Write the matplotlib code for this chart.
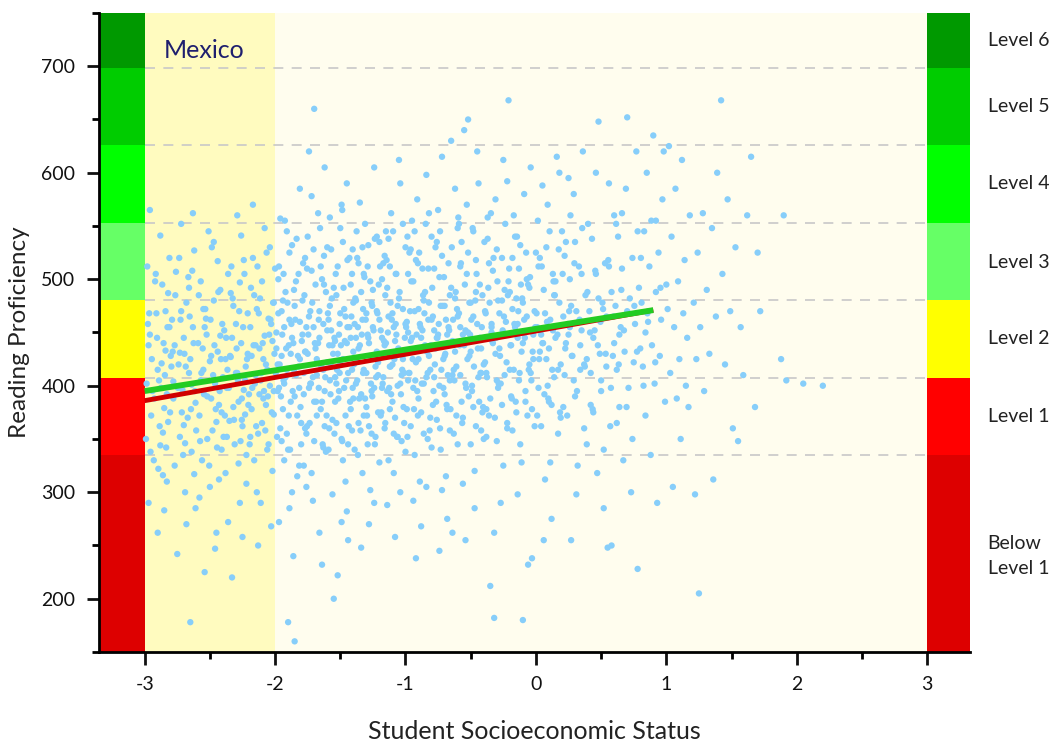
import matplotlib
matplotlib.use("Agg")
import matplotlib.pyplot as plt
import matplotlib.transforms as mtransforms

plt.rcParams['font.family'] = ['Lato', 'DejaVu Sans']

# PISA reading proficiency levels (lower bounds) and colours
level_names = ["Below\nLevel 1", "Level 1", "Level 2", "Level 3", "Level 4", "Level 5", "Level 6"]
level_bounds = [150, 334.75, 407.47, 480.18, 552.89, 625.61, 698.32, 750]
level_colors = ["#dd0000", "#ff0000", "#ffff00", "#66ff66", "#00ff00", "#00cc00", "#009900"]

# regression lines
fit_x = [-3.0, 0.9]
fit_red = [386, 471]
fit_green = [395, 471]

# students: (socioeconomic status, reading score), read column by column
students = [
    (-2.98,512),(-2.96,448),(-2.95,372),(-2.93,330),(-2.97,290),(-2.91,468),(-2.89,405),(-2.88,541),(-2.86,356),(-2.84,433),
    (-2.83,310),(-2.82,487),(-2.94,395),(-2.90,262),(-2.87,421),(-2.85,379),(-2.81,455),(-2.99,350),(-2.92,498),(-2.86,316),
    (-2.83,392),(-2.80,428),(-2.96,565),(-2.88,344),(-2.84,470),(-2.90,415),(-2.82,366),(-2.97,438),(-2.85,283),(-2.81,520),
    (-2.79,462),(-2.78,388),(-2.77,325),(-2.76,507),(-2.74,420),(-2.73,352),(-2.72,552),(-2.71,396),(-2.70,445),(-2.69,300),
    (-2.68,478),(-2.67,370),(-2.66,412),(-2.65,178),(-2.64,338),(-2.63,455),(-2.62,527),(-2.61,384),(-2.75,242),(-2.73,431),
    (-2.70,363),(-2.68,270),(-2.66,492),(-2.64,401),(-2.62,317),(-2.77,438),(-2.72,470),(-2.69,346),(-2.65,425),(-2.63,562),
    (-2.61,285),(-2.78,404),
    (-2.59,440),(-2.58,372),(-2.57,498),(-2.56,330),(-2.55,415),(-2.54,225),(-2.53,463),(-2.52,390),(-2.51,545),(-2.50,305),
    (-2.49,428),(-2.48,358),(-2.47,480),(-2.46,402),(-2.45,262),(-2.44,517),(-2.43,382),(-2.42,447),(-2.41,340),(-2.40,408),
    (-2.58,295),(-2.55,472),(-2.52,350),(-2.50,423),(-2.47,535),(-2.45,366),(-2.43,312),(-2.57,405),(-2.54,455),(-2.49,388),
    (-2.46,247),(-2.44,432),(-2.42,490),(-2.41,375),
    (-2.39,452),(-2.38,318),(-2.37,398),(-2.36,505),(-2.35,367),(-2.34,427),(-2.33,220),(-2.32,475),(-2.31,345),(-2.30,412),
    (-2.29,560),(-2.28,385),(-2.27,290),(-2.26,440),(-2.25,362),(-2.24,518),(-2.23,405),(-2.22,335),(-2.21,468),(-2.20,392),
    (-2.38,425),(-2.36,272),(-2.34,487),(-2.32,380),(-2.30,458),(-2.28,327),(-2.26,541),(-2.24,396),(-2.22,308),(-2.21,430),
    (-2.37,352),(-2.33,445),(-2.29,412),(-2.27,497),(-2.25,258),(-2.23,373),
    (-2.19,455),(-2.18,378),(-2.17,520),(-2.16,330),(-2.15,410),(-2.14,472),(-2.13,355),(-2.12,435),(-2.11,290),(-2.10,498),
    (-2.09,388),(-2.08,548),(-2.07,420),(-2.06,340),(-2.05,463),(-2.04,400),(-2.03,268),(-2.02,442),(-2.01,373),(-2.00,510),
    (-2.18,428),(-2.16,485),(-2.14,300),(-2.12,392),(-2.10,365),(-2.08,447),(-2.06,415),(-2.04,530),(-2.02,320),(-2.01,478),
    (-2.19,352),(-2.15,438),(-2.11,405),(-2.07,382),(-2.03,458),(-2.17,570),(-2.13,250),(-2.09,425),(-2.05,345),(-2.01,395),
    (-1.99,450),(-1.98,395),(-1.97,512),(-1.96,360),(-1.95,428),(-1.94,480),(-1.93,330),(-1.92,408),(-1.91,545),(-1.90,178),
    (-1.89,462),(-1.88,385),(-1.87,300),(-1.86,440),(-1.85,160),(-1.84,498),(-1.83,372),(-1.82,418),(-1.81,585),(-1.80,345),
    (-1.99,435),(-1.97,272),(-1.95,470),(-1.93,402),(-1.91,355),(-1.89,525),(-1.87,445),(-1.85,390),(-1.83,315),(-1.81,460),
    (-1.98,420),(-1.96,557),(-1.94,378),(-1.92,488),(-1.90,340),(-1.88,430),(-1.86,240),(-1.84,410),(-1.82,505),(-1.80,365),
    (-1.97,398),(-1.93,455),(-1.89,285),(-1.85,475),(-1.81,425),(-1.95,348),(-1.91,415),(-1.87,532),
    (-1.79,448),(-1.78,392),(-1.77,520),(-1.76,355),(-1.75,430),(-1.74,620),(-1.73,470),(-1.72,318),(-1.71,408),(-1.70,660),
    (-1.69,495),(-1.68,372),(-1.67,440),(-1.66,262),(-1.65,512),(-1.64,385),(-1.63,458),(-1.62,605),(-1.61,338),(-1.60,422),
    (-1.79,480),(-1.77,360),(-1.75,540),(-1.73,402),(-1.71,292),(-1.69,435),(-1.67,562),(-1.65,378),(-1.63,415),(-1.61,488),
    (-1.78,325),(-1.76,455),(-1.74,398),(-1.72,508),(-1.70,348),(-1.68,425),(-1.66,470),(-1.64,232),(-1.62,395),(-1.60,530),
    (-1.78,412),(-1.74,465),(-1.70,385),(-1.66,445),(-1.62,362),(-1.76,305),(-1.72,578),(-1.68,410),(-1.64,500),(-1.60,452),
    (-1.77,432),(-1.63,342),
    (-1.59,462),(-1.58,405),(-1.57,528),(-1.56,368),(-1.55,200),(-1.54,442),(-1.53,485),(-1.52,222),(-1.51,395),(-1.50,548),
    (-1.49,350),(-1.48,425),(-1.47,472),(-1.46,310),(-1.45,590),(-1.44,412),(-1.43,455),(-1.42,378),(-1.41,505),(-1.40,432),
    (-1.59,340),(-1.57,418),(-1.55,492),(-1.53,365),(-1.51,448),(-1.49,570),(-1.47,398),(-1.45,282),(-1.43,520),(-1.41,358),
    (-1.58,475),(-1.56,438),(-1.54,385),(-1.52,512),(-1.50,420),(-1.48,330),(-1.46,465),(-1.44,255),(-1.42,445),(-1.40,388),
    (-1.58,558),(-1.54,408),(-1.50,468),(-1.46,372),(-1.42,495),(-1.56,298),(-1.52,430),(-1.48,535),(-1.44,345),(-1.40,478),
    (-1.57,452),(-1.53,402),(-1.49,272),(-1.45,440),(-1.41,415),
    (-1.39,458),(-1.38,402),(-1.37,520),(-1.36,365),(-1.35,438),(-1.34,488),(-1.33,318),(-1.32,415),(-1.31,552),(-1.30,380),
    (-1.29,448),(-1.28,270),(-1.27,498),(-1.26,395),(-1.25,428),(-1.24,605),(-1.23,352),(-1.22,470),(-1.21,410),(-1.20,535),
    (-1.39,340),(-1.37,425),(-1.35,572),(-1.33,462),(-1.31,388),(-1.29,512),(-1.27,302),(-1.25,455),(-1.23,418),(-1.21,375),
    (-1.38,480),(-1.36,435),(-1.34,248),(-1.32,505),(-1.30,412),(-1.28,362),(-1.26,478),(-1.24,398),(-1.22,540),(-1.20,328),
    (-1.38,445),(-1.34,392),(-1.30,468),(-1.26,355),(-1.22,432),(-1.36,515),(-1.32,372),(-1.28,440),(-1.24,290),(-1.20,462),
    (-1.37,405),(-1.33,530),(-1.29,345),(-1.25,490),(-1.21,422),
    (-1.19,452),(-1.18,398),(-1.17,515),(-1.16,360),(-1.15,440),(-1.14,492),(-1.13,330),(-1.12,418),(-1.11,562),(-1.10,385),
    (-1.09,455),(-1.08,258),(-1.07,505),(-1.06,400),(-1.05,432),(-1.04,590),(-1.03,348),(-1.02,472),(-1.01,412),(-1.00,530),
    (-1.19,372),(-1.17,428),(-1.15,545),(-1.13,465),(-1.11,392),(-1.09,318),(-1.07,448),(-1.05,482),(-1.03,410),(-1.01,365),
    (-1.18,500),(-1.16,438),(-1.14,288),(-1.12,512),(-1.10,420),(-1.08,370),(-1.06,475),(-1.04,402),(-1.02,552),(-1.00,338),
    (-1.18,445),(-1.14,395),(-1.10,468),(-1.06,352),(-1.02,425),(-1.16,522),(-1.12,378),(-1.08,442),(-1.04,300),(-1.00,458),
    (-1.17,408),(-1.13,538),(-1.09,355),(-1.05,612),(-1.01,430),
    (-0.99,460),(-0.98,405),(-0.97,525),(-0.96,362),(-0.95,445),(-0.94,498),(-0.93,335),(-0.92,422),(-0.91,575),(-0.90,388),
    (-0.89,458),(-0.88,268),(-0.87,510),(-0.86,402),(-0.85,438),(-0.84,598),(-0.83,350),(-0.82,478),(-0.81,415),(-0.80,540),
    (-0.99,378),(-0.97,432),(-0.95,555),(-0.93,470),(-0.91,395),(-0.89,310),(-0.87,452),(-0.85,488),(-0.83,412),(-0.81,370),
    (-0.98,505),(-0.96,442),(-0.94,292),(-0.92,518),(-0.90,425),(-0.88,375),(-0.86,480),(-0.84,408),(-0.82,562),(-0.80,342),
    (-0.98,450),(-0.94,398),(-0.90,472),(-0.86,355),(-0.82,428),(-0.96,528),(-0.92,238),(-0.88,445),(-0.84,305),(-0.80,462),
    (-0.97,412),(-0.93,545),
    (-0.79,465),(-0.78,408),(-0.77,530),(-0.76,368),(-0.75,448),(-0.74,502),(-0.73,340),(-0.72,615),(-0.71,425),(-0.70,392),
    (-0.69,462),(-0.68,275),(-0.67,515),(-0.66,405),(-0.65,630),(-0.64,442),(-0.63,355),(-0.62,482),(-0.61,418),(-0.60,548),
    (-0.79,382),(-0.77,435),(-0.75,565),(-0.73,475),(-0.71,398),(-0.69,315),(-0.67,455),(-0.65,492),(-0.63,415),(-0.61,372),
    (-0.78,510),(-0.76,445),(-0.74,245),(-0.72,522),(-0.70,428),(-0.68,378),(-0.66,485),(-0.64,410),(-0.62,585),(-0.60,345),
    (-0.78,452),(-0.74,400),(-0.70,475),(-0.66,358),(-0.62,432),(-0.76,535),(-0.72,302),(-0.68,448),(-0.64,262),(-0.60,465),
    (-0.59,468),(-0.58,410),(-0.57,535),(-0.56,370),(-0.55,640),(-0.54,452),(-0.53,505),(-0.52,650),(-0.51,428),(-0.50,345),
    (-0.49,395),(-0.48,465),(-0.47,285),(-0.46,518),(-0.45,620),(-0.44,408),(-0.43,445),(-0.42,358),(-0.41,485),(-0.40,420),
    (-0.59,552),(-0.57,385),(-0.55,438),(-0.53,570),(-0.51,478),(-0.49,400),(-0.47,320),(-0.45,458),(-0.43,495),(-0.41,375),
    (-0.58,512),(-0.56,448),(-0.54,255),(-0.52,525),(-0.50,432),(-0.48,380),(-0.46,488),(-0.44,590),(-0.42,412),(-0.40,350),
    (-0.58,455),(-0.54,402),(-0.50,478),(-0.46,362),(-0.42,435),(-0.56,308),(-0.52,450),(-0.48,545),
    (-0.39,470),(-0.38,412),(-0.37,538),(-0.36,372),(-0.35,212),(-0.34,455),(-0.33,508),(-0.32,182),(-0.31,430),(-0.30,348),
    (-0.29,398),(-0.28,468),(-0.27,290),(-0.26,520),(-0.25,612),(-0.24,410),(-0.23,448),(-0.22,360),(-0.21,668),(-0.20,488),
    (-0.39,422),(-0.37,558),(-0.35,388),(-0.33,440),(-0.31,575),(-0.29,480),(-0.27,402),(-0.25,325),(-0.23,460),(-0.21,498),
    (-0.38,378),(-0.36,515),(-0.34,450),(-0.32,262),(-0.30,528),(-0.28,435),(-0.26,382),(-0.24,490),(-0.22,592),(-0.20,415),
    (-0.38,352),(-0.34,458),(-0.30,405),(-0.26,480),(-0.22,365),
    (-0.19,438),(-0.18,472),(-0.17,415),(-0.16,540),(-0.15,375),(-0.14,458),(-0.13,510),(-0.12,345),(-0.11,432),(-0.10,180),
    (-0.09,580),(-0.08,395),(-0.07,465),(-0.06,232),(-0.05,492),(-0.04,412),(-0.03,238),(-0.02,448),(-0.01,362),(0.00,525),
    (-0.19,390),(-0.17,560),(-0.15,482),(-0.13,405),(-0.11,328),(-0.09,462),(-0.07,500),(-0.05,420),(-0.03,378),(-0.01,470),
    (-0.18,520),(-0.16,455),(-0.14,298),(-0.12,532),(-0.10,440),(-0.08,385),(-0.06,495),(-0.04,605),(-0.02,425),(-0.18,358),
    (-0.14,445),(-0.10,478),
    (0.01,455),(0.02,398),(0.03,520),(0.04,362),(0.05,440),(0.06,490),(0.07,312),(0.08,425),(0.09,570),(0.10,385),
    (0.11,462),(0.12,275),(0.13,505),(0.14,408),(0.15,445),(0.16,615),(0.17,355),(0.18,478),(0.19,420),(0.20,545),
    (0.01,372),(0.03,432),(0.05,588),(0.07,468),(0.09,400),(0.11,328),(0.13,452),(0.15,498),(0.17,415),(0.19,370),
    (0.02,512),(0.04,448),(0.06,255),(0.08,530),(0.10,435),(0.12,382),(0.14,485),(0.18,600),
    (0.21,465),(0.22,410),(0.23,535),(0.24,372),(0.25,448),(0.26,500),(0.27,255),(0.28,428),(0.29,580),(0.30,390),
    (0.31,470),(0.32,325),(0.33,512),(0.34,415),(0.35,452),(0.36,620),(0.37,360),(0.38,485),(0.39,425),(0.40,552),
    (0.21,380),(0.23,440),(0.25,595),(0.27,475),(0.29,405),(0.31,298),(0.33,460),(0.35,505),(0.37,420),(0.39,345),
    (0.22,522),(0.26,455),(0.30,535),(0.34,438),
    (0.41,470),(0.42,412),(0.43,538),(0.44,375),(0.45,452),(0.46,505),(0.47,318),(0.48,648),(0.49,430),(0.50,395),
    (0.51,478),(0.52,285),(0.53,515),(0.54,418),(0.55,248),(0.56,590),(0.57,362),(0.58,488),(0.59,428),(0.60,560),
    (0.42,382),(0.44,445),(0.46,600),(0.48,482),(0.50,405),(0.52,340),(0.54,465),(0.56,512),(0.58,250),(0.60,440),
    (0.61,475),(0.62,415),(0.63,540),(0.64,380),(0.65,455),(0.66,510),(0.67,330),(0.68,432),(0.69,585),(0.70,652),
    (0.71,398),(0.72,482),(0.73,300),(0.74,520),(0.75,422),(0.76,458),(0.77,620),(0.78,228),(0.79,492),(0.80,435),
    (0.62,365),(0.64,448),(0.66,562),(0.70,470),(0.74,350),(0.78,545),
    (0.81,478),(0.82,418),(0.83,545),(0.84,372),(0.85,600),(0.86,460),(0.87,512),(0.88,335),(0.89,438),(0.90,635),
    (0.91,402),(0.92,488),(0.93,290),(0.94,525),(0.95,428),(0.96,462),(0.97,575),(0.98,620),(0.99,385),(1.00,495),
    (0.84,450),(0.92,555),
    (1.01,472),(1.02,625),(1.03,412),(1.04,540),(1.05,305),(1.06,455),(1.07,585),(1.08,388),(1.09,498),(1.10,425),
    (1.11,350),(1.12,612),(1.13,468),(1.14,518),(1.15,400),(1.16,445),(1.17,380),(1.18,560),
    (1.21,478),(1.22,298),(1.23,425),(1.24,525),(1.25,205),(1.26,455),(1.28,562),(1.29,395),(1.31,490),(1.33,430),
    (1.35,548),(1.36,312),(1.38,465),(1.39,600),
    (1.42,668),(1.43,505),(1.45,420),(1.47,575),(1.49,470),(1.51,360),(1.53,530),(1.55,348),(1.57,455),(1.59,410),
    (1.65,615),(1.70,525),(1.62,560),(1.88,425),(1.90,560),(1.92,405),(2.05,402),(2.20,400),(1.72,470),(1.68,380),
]

# extra students inside the dense core of the cloud
students_core = [
    (-2.985,402),(-2.965,468),(-2.945,425),(-2.925,388),(-2.905,445),(-2.885,362),(-2.865,495),(-2.845,410),(-2.825,455),(-2.805,375),
    (-2.785,432),(-2.765,485),(-2.955,338),(-2.915,505),(-2.875,398),(-2.835,342),(-2.795,418),(-2.975,458),(-2.895,322),(-2.855,440),
    (-2.745,398),(-2.725,462),(-2.705,335),(-2.685,418),(-2.665,502),(-2.645,378),(-2.625,440),(-2.605,358),(-2.585,485),(-2.565,412),
    (-2.545,392),(-2.525,448),(-2.505,325),(-2.735,520),(-2.695,430),(-2.655,465),(-2.615,395),(-2.575,348),(-2.535,472),(-2.715,375),
    (-2.635,508),(-2.555,435),
    (-2.495,462),(-2.475,410),(-2.455,378),(-2.435,488),(-2.415,425),(-2.395,352),(-2.375,445),(-2.355,398),(-2.335,512),(-2.315,368),
    (-2.295,435),(-2.275,470),(-2.255,388),(-2.485,530),(-2.445,342),(-2.405,458),(-2.365,415),(-2.325,482),(-2.285,405),(-2.465,438),
    (-2.425,395),(-2.385,372),(-2.345,428),(-2.265,348),
    (-2.245,455),(-2.225,418),(-2.205,382),(-2.185,492),(-2.165,438),(-2.145,362),(-2.125,468),(-2.105,412),(-2.085,395),(-2.065,525),
    (-2.045,448),(-2.025,375),(-2.005,430),(-2.235,505),(-2.195,345),(-2.155,402),(-2.115,482),(-2.075,358),(-2.035,462),(-2.215,425),
    (-2.175,398),(-2.135,512),(-2.095,440),(-2.055,390),(-2.015,478),(-2.255,368),
    (-1.995,412),(-1.975,468),(-1.955,390),(-1.935,505),(-1.915,435),(-1.895,372),(-1.875,458),(-1.855,415),(-1.835,538),(-1.815,398),
    (-1.795,442),(-1.775,485),(-1.755,362),(-1.985,352),(-1.945,448),(-1.905,478),(-1.865,395),(-1.825,428),(-1.785,515),(-1.965,420),
    (-1.925,555),(-1.885,340),(-1.845,462),(-1.805,380),(-1.765,432),(-1.975,500),(-1.935,405),(-1.895,438),(-1.855,490),(-1.815,325),
    (-1.745,448),(-1.725,402),(-1.705,528),(-1.685,385),(-1.665,462),(-1.645,418),(-1.625,495),(-1.605,372),(-1.585,438),(-1.565,482),
    (-1.545,355),(-1.525,415),(-1.505,458),(-1.735,365),(-1.695,440),(-1.655,548),(-1.615,408),(-1.575,392),(-1.535,505),(-1.715,478),
    (-1.675,422),(-1.635,345),(-1.595,468),(-1.555,430),(-1.515,388),(-1.755,510),(-1.705,455),(-1.665,398),(-1.625,522),(-1.585,360),
    (-1.545,445),(-1.505,412),
    (-1.495,438),(-1.475,492),(-1.455,405),(-1.435,362),(-1.415,465),(-1.395,420),(-1.375,545),(-1.355,388),(-1.335,448),(-1.315,502),
    (-1.295,372),(-1.275,428),(-1.255,475),(-1.485,348),(-1.445,518),(-1.405,398),(-1.365,455),(-1.325,412),(-1.285,532),(-1.465,442),
    (-1.425,385),(-1.385,482),(-1.345,358),(-1.305,462),(-1.265,402),(-1.485,565),(-1.445,455),(-1.405,528),(-1.365,335),(-1.325,472),
    (-1.285,445),(-1.255,390),
    (-1.245,452),(-1.225,408),(-1.205,495),(-1.185,375),(-1.165,442),(-1.145,518),(-1.125,398),(-1.105,462),(-1.085,425),(-1.065,352),
    (-1.045,488),(-1.025,415),(-1.005,445),(-1.235,538),(-1.195,428),(-1.155,365),(-1.115,478),(-1.075,505),(-1.035,392),(-1.215,468),
    (-1.175,402),(-1.135,450),(-1.095,545),(-1.055,435),(-1.015,380),(-1.235,345),(-1.195,512),(-1.155,485),(-1.115,418),(-1.075,458),
    (-0.995,455),(-0.975,412),(-0.955,498),(-0.935,378),(-0.915,448),(-0.895,525),(-0.875,402),(-0.855,468),(-0.835,432),(-0.815,358),
    (-0.795,492),(-0.775,420),(-0.755,445),(-0.985,540),(-0.945,425),(-0.905,372),(-0.865,485),(-0.825,510),(-0.785,395),(-0.965,470),
    (-0.925,405),(-0.885,455),(-0.845,552),(-0.805,438),(-0.765,385),(-0.985,352),(-0.905,515),(-0.825,462),
    (-0.745,458),(-0.725,415),(-0.705,502),(-0.685,382),(-0.665,452),(-0.645,530),(-0.625,405),(-0.605,472),(-0.585,438),(-0.565,365),
    (-0.545,495),(-0.525,425),(-0.505,448),(-0.735,545),(-0.695,430),(-0.655,378),(-0.615,488),(-0.575,515),(-0.535,398),(-0.715,475),
    (-0.675,410),(-0.635,462),(-0.595,558),(-0.555,442),(-0.515,390),(-0.735,360),
    (-0.495,462),(-0.475,418),(-0.455,505),(-0.435,385),(-0.415,455),(-0.395,535),(-0.375,408),(-0.355,478),(-0.335,442),(-0.315,370),
    (-0.295,498),(-0.275,428),(-0.255,452),(-0.485,548),(-0.445,435),(-0.405,380),(-0.365,492),(-0.325,520),(-0.285,402),(-0.465,480),
    (-0.425,412),(-0.385,468),(-0.345,562),(-0.305,445),
    (-0.245,465),(-0.225,422),(-0.205,510),(-0.185,388),(-0.165,458),(-0.145,540),(-0.125,412),(-0.105,482),(-0.085,445),(-0.065,372),
    (-0.045,502),(-0.025,432),(-0.005,455),(-0.235,552),(-0.195,438),(-0.155,385),(-0.115,495),(-0.075,525),(-0.035,405),(-0.215,485),
    (-0.135,470),(-0.055,415),
    (0.005,468),(0.025,425),(0.045,512),(0.065,392),(0.085,460),(0.105,545),(0.125,415),(0.145,485),(0.165,448),(0.185,375),
    (0.205,505),(0.225,435),(0.245,458),(0.015,555),(0.055,440),(0.095,388),(0.135,498),(0.175,528),
    (0.255,470),(0.275,428),(0.295,515),(0.315,395),(0.335,462),(0.355,548),(0.375,418),(0.395,488),(0.415,450),(0.435,378),
    (0.455,508),(0.475,438),(0.495,460),(0.265,560),
    (0.515,472),(0.535,430),(0.555,518),(0.575,398),(0.595,465),(0.615,552),(0.635,420),(0.655,490),(0.675,452),(0.695,380),
    (0.755,475),(0.775,432),(0.805,520),(0.825,400),(0.855,468),(0.885,555),(0.915,422),(0.955,492),
]

ses = [p[0] for p in students + students_core]
score = [p[1] for p in students + students_core]

fig = plt.figure(figsize=(10.5, 7.42), dpi=100)
ax = fig.add_axes([0.0943, 0.1213, 0.8297, 0.8612])
ax.set_xlim(-3.35, 3.33)
ax.set_ylim(150, 750)

# backgrounds
ax.axvspan(-3, 3, color="#fffdee", zorder=0, lw=0)
ax.axvspan(-3, -2, color="#fffbbf", zorder=0.5, lw=0)
for i in range(len(level_names)):
    lo, hi = level_bounds[i], level_bounds[i + 1]
    ax.fill_between([-3.35, -3], lo, hi, color=level_colors[i], lw=0, zorder=1)
    ax.fill_between([3, 3.33], lo, hi, color=level_colors[i], lw=0, zorder=1)

for b in level_bounds[1:-1]:
    ax.plot([-3, 3], [b, b], color="#c8c8c8", lw=1.2, ls=(0, (6, 5)), zorder=1.5)

ax.scatter(ses, score, s=21, color="#87cefa", edgecolors="none", zorder=2)

ax.plot(fit_x, fit_red, color="#d00000", lw=3.5, solid_capstyle="butt", zorder=3)
ax.plot(fit_x, fit_green, color="#22cc22", lw=4.2, solid_capstyle="butt", zorder=4)

ax.text(-2.85, 715, "Mexico", color="#1f1f6e", fontsize=18, va="center", ha="left", zorder=5)

# level names at the right
trans = mtransforms.blended_transform_factory(ax.transAxes, ax.transData)
label_y = [240, 371, 444, 516, 590, 662, 724]
for name, yy in zip(level_names, label_y):
    ax.text(1.02, yy, name, transform=trans, fontsize=14, va="center", ha="left",
            color="#222222", linespacing=1.6)

for side in ["top", "right"]:
    ax.spines[side].set_visible(False)
for side in ["left", "bottom"]:
    ax.spines[side].set_linewidth(2)
    ax.spines[side].set_zorder(6)

ax.set_xticks([-3, -2, -1, 0, 1, 2, 3])
ax.set_xticklabels(["-3", "-2", "-1", "0", "1", "2", "3"])
ax.set_xticks([-2.5, -1.5, -0.5, 0.5, 1.5, 2.5], minor=True)
ax.set_yticks([200, 300, 400, 500, 600, 700])
ax.set_yticks([150, 250, 350, 450, 550, 650, 750], minor=True)
ax.tick_params(which="major", direction="out", length=9, width=2, labelsize=14, pad=8, colors="#111111")
ax.tick_params(which="minor", direction="out", length=5, width=2)

ax.set_xlabel("Student Socioeconomic Status", fontsize=18, labelpad=20, color="#222222")
ax.set_ylabel("Reading Proficiency", fontsize=17.5, labelpad=8, color="#222222")

fig.savefig("out.png", dpi=100)
